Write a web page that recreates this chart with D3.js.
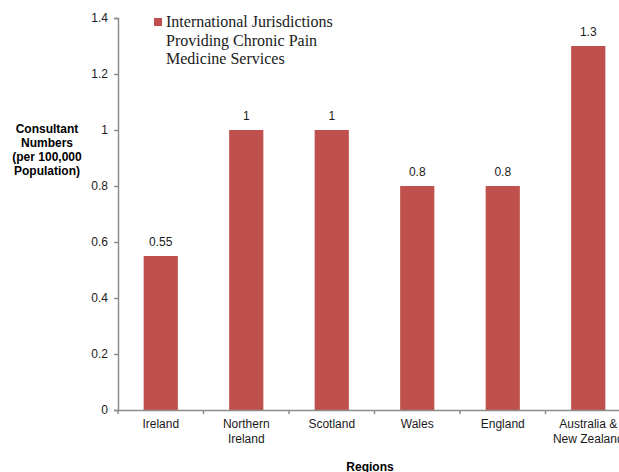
<!DOCTYPE html>
<html>
<head>
<meta charset="utf-8">
<script src="https://cdn.jsdelivr.net/npm/d3@7"></script>
<style>
  body { margin: 0; background: #fff; }
  svg { display: block; font-family: Arial, "Liberation Sans", sans-serif; }
</style>
</head>
<body>
<div id="chart"></div>
<script>
const width = 619,
  height = 472,
  margin = { top: 18, bottom: 62, left: 118, right: -12 };

// data
const regions = [
  ["Ireland"],
  ["Northern", "Ireland"],
  ["Scotland"],
  ["Wales"],
  ["England"],
  ["Australia &", "New Zealand"]
];
const consultants = [0.55, 1, 1, 0.8, 0.8, 1.3];
const valueLabels = ["0.55", "1", "1", "0.8", "0.8", "1.3"];
const yTicks = [0, 0.2, 0.4, 0.6, 0.8, 1, 1.2, 1.4];
const legendLines = ["International Jurisdictions", "Providing Chronic Pain", "Medicine Services"];
const yTitle = ["Consultant", "Numbers", "(per 100,000", "Population)"];

const barColor = "#C0504D",
  axisColor = "#8c8c8c";

const keys = regions.map((d, i) => i);

const xScale = d3.scaleBand()
  .domain(keys)
  .range([margin.left, width - margin.right])
  .paddingInner(0.6)
  .paddingOuter(0.3);

const yScale = d3.scaleLinear()
  .domain([0, 1.4])
  .range([height - margin.bottom, margin.top]);

const svg = d3.select("#chart")
  .append("svg")
  .attr("width", width)
  .attr("height", height);

// bars
svg.selectAll(".bar")
  .data(consultants)
  .join("rect")
  .attr("class", "bar")
  .attr("x", (d, i) => xScale(i))
  .attr("y", d => yScale(d))
  .attr("width", xScale.bandwidth())
  .attr("height", d => yScale(0) - yScale(d))
  .attr("fill", barColor);

// value labels
svg.selectAll(".val")
  .data(consultants)
  .join("text")
  .attr("class", "val")
  .attr("x", (d, i) => xScale(i) + xScale.bandwidth() / 2)
  .attr("y", d => yScale(d) - 10)
  .attr("text-anchor", "middle")
  .style("font-size", "12px")
  .attr("fill", "#1a1a1a")
  .text((d, i) => valueLabels[i]);

// y axis
const yAxis = d3.axisLeft(yScale)
  .tickValues(yTicks)
  .tickSize(4)
  .tickPadding(6)
  .tickFormat(d => d3.format("~g")(d));

const gy = svg.append("g")
  .attr("transform", `translate(${margin.left},0)`)
  .call(yAxis);
gy.select(".domain").attr("stroke", axisColor).attr("stroke-width", 1.5);
gy.selectAll(".tick line").attr("stroke", axisColor).attr("stroke-width", 1.5);
gy.selectAll(".tick text").style("font-size", "12px").attr("fill", "#1a1a1a");

// x axis
const xAxis = d3.axisBottom(xScale)
  .tickSize(0)
  .tickFormat("");

const gx = svg.append("g")
  .attr("transform", `translate(0,${yScale(0)})`)
  .call(xAxis);
gx.select(".domain").attr("stroke", axisColor).attr("stroke-width", 1.5);

// category separators
gx.selectAll(".sep")
  .data(keys)
  .join("line")
  .attr("class", "sep")
  .attr("x1", d => xScale(d) - xScale.step() * 0.3)
  .attr("x2", d => xScale(d) - xScale.step() * 0.3)
  .attr("y1", 0)
  .attr("y2", 4)
  .attr("stroke", axisColor)
  .attr("stroke-width", 1.5);

// category labels
const cat = svg.selectAll(".cat")
  .data(regions)
  .join("text")
  .attr("class", "cat")
  .attr("x", (d, i) => xScale(i) + xScale.bandwidth() / 2)
  .attr("y", yScale(0) + 18)
  .attr("text-anchor", "middle")
  .style("font-size", "12px")
  .attr("fill", "#1a1a1a");
cat.selectAll("tspan")
  .data(d => d)
  .join("tspan")
  .attr("x", function() { return this.parentNode.getAttribute("x"); })
  .attr("dy", (d, i) => i === 0 ? 0 : 15)
  .text(d => d);

// axis titles
svg.append("text")
  .attr("x", 370)
  .attr("y", 471)
  .attr("text-anchor", "middle")
  .style("font-size", "12px")
  .style("font-weight", "bold")
  .attr("fill", "#000")
  .text("Regions");

svg.append("text")
  .attr("text-anchor", "middle")
  .style("font-size", "12px")
  .style("font-weight", "bold")
  .attr("fill", "#000")
  .selectAll("tspan")
  .data(yTitle)
  .join("tspan")
  .attr("x", 47)
  .attr("y", (d, i) => 133 + i * 14)
  .text(d => d);

// legend
const legend = svg.append("g").attr("transform", "translate(154,18)");
legend.append("rect")
  .attr("width", 8)
  .attr("height", 8)
  .attr("fill", barColor);
legend.append("text")
  .style("font-family", "'Liberation Serif', 'DejaVu Serif', serif")
  .style("font-size", "16px")
  .attr("fill", "#1a1a1a")
  .selectAll("tspan")
  .data(legendLines)
  .join("tspan")
  .attr("x", 12)
  .attr("y", (d, i) => 9 + i * 18.5)
  .text(d => d);
</script>
</body>
</html>
